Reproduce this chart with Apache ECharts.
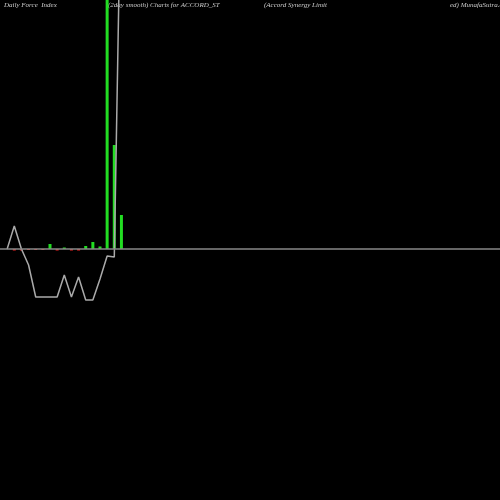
<!DOCTYPE html><html><head><meta charset="utf-8"><script src="https://cdn.jsdelivr.net/npm/echarts@6/dist/echarts.min.js"></script></head><body style="margin:0;background:#000"><div id="c" style="width:500px;height:500px"></div><script>
const idx=[0,1,2,3,4,5,6,7,8,9,10,11,12,13,14,15,16];
const barVals=[0,-1.5,-1.5,-1,-1,-1,5,-1.5,1.5,-1.5,-1.5,3,7,2.5,400,104,34];
const lineVals=[0,23,0,-16,-48,-48,-48,-48,-26,-48,-28,-51,-51,-30,-7,-8,400];
const titles=[["Daily Force  Index",4],["(2day smooth) Charts for ACCORD_ST",108],["(Accord Synergy Limit",264],["ed) MunafaSutra.com",450]];
const ch=echarts.init(document.getElementById('c'));
ch.setOption({backgroundColor:'#000',animation:false,
grid:{left:0,right:0,top:0,bottom:0},
xAxis:{type:'value',min:-1,max:69,show:false},
yAxis:{type:'value',min:-251,max:249,show:false},
graphic:titles.map(t=>({type:'text',left:t[1],top:2,style:{text:t[0],fill:'#ccc',font:'italic 7px "Liberation Serif"'}})),
series:[
{type:'bar',barWidth:3,data:idx.map(i=>[i,barVals[i]]),itemStyle:{color:p=>p.value[1]>=0?'#22dd22':'#ee2222'},
 markLine:{symbol:'none',silent:true,label:{show:false},lineStyle:{color:'#888',width:1.5,type:'solid'},data:[{yAxis:0}]}},
{type:'line',data:idx.map(i=>[i,lineVals[i]]),symbol:'none',lineStyle:{color:'#aaa',width:1.5}}
]});
</script></body></html>
